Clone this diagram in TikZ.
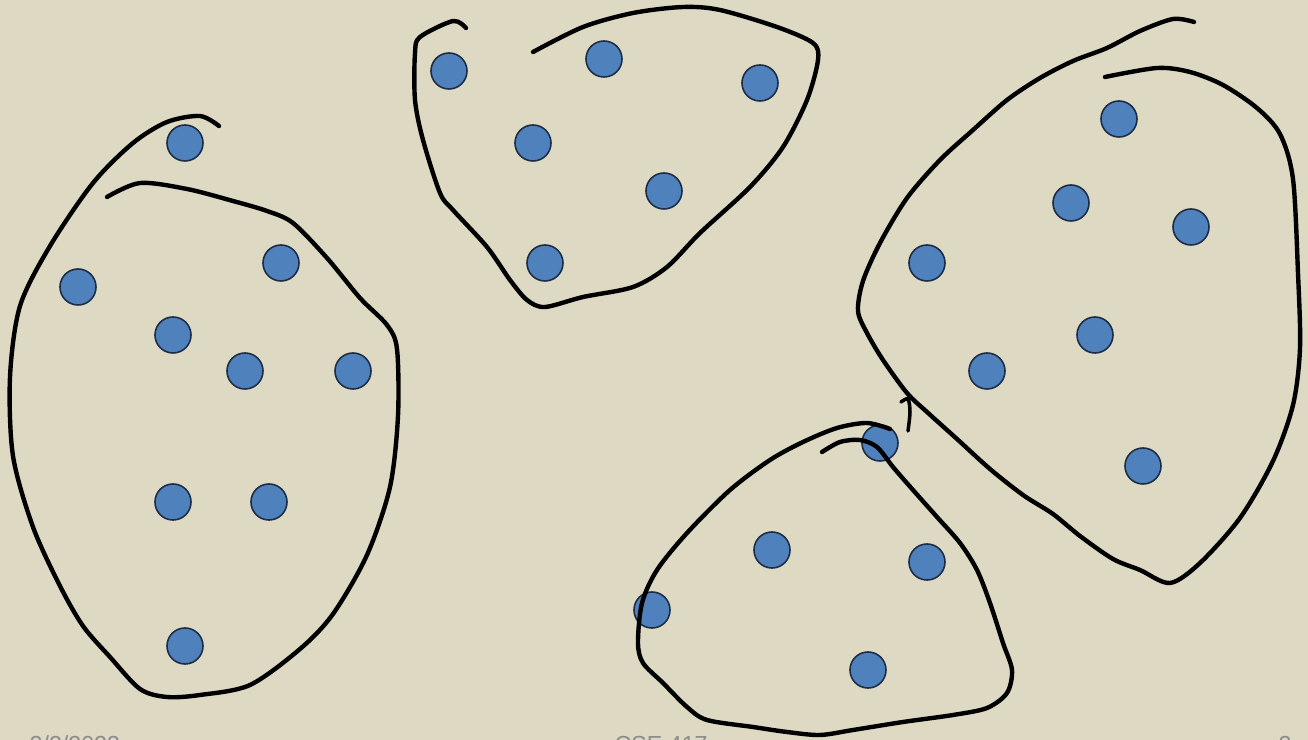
\documentclass[tikz,border=0pt]{standalone}
\usepackage{fontspec}
\setsansfont{Liberation Sans}
\usepackage{xcolor}
\definecolor{slidetan}{RGB}{221, 217, 195}
\definecolor{dotblue}{RGB}{79, 129, 189}
\definecolor{dotrim}{RGB}{30, 45, 70}
\definecolor{footgray}{RGB}{140, 140, 140}
\usepackage{tikz}

\tikzset{
  datum/.style={
    circle,
    draw=dotrim,
    line width=0.45pt,
    fill=dotblue,
    minimum size=0.36cm,
    inner sep=0pt
  },
  lasso/.style={
    draw=black,
    line width=1.25pt,
    line cap=round,
    line join=round
  },
  footer/.style={
    font=\sffamily\fontsize{6.6}{8}\selectfont,
    text=footgray,
    inner sep=0pt,
    anchor=base west
  }
}

\begin{document}
\begin{tikzpicture}[x=0.01cm, y=-0.01cm]
  \useasboundingbox[fill=slidetan] (0,0) rectangle (1308,740);

  % left group
  \node[datum] (l1) at (185,143) {};
  \node[datum] (l2) at (78,287) {};
  \node[datum] (l3) at (281,263) {};
  \node[datum] (l4) at (173,335) {};
  \node[datum] (l5) at (245,371) {};
  \node[datum] (l6) at (353,371) {};
  \node[datum] (l7) at (173,502) {};
  \node[datum] (l8) at (269,502) {};
  \node[datum] (l9) at (185,646) {};

  % top group
  \node[datum] (t1) at (449,71) {};
  \node[datum] (t2) at (604,59) {};
  \node[datum] (t3) at (760,83) {};
  \node[datum] (t4) at (533,143) {};
  \node[datum] (t5) at (664,191) {};
  \node[datum] (t6) at (545,263) {};

  % right group
  \node[datum] (r1) at (1119,119) {};
  \node[datum] (r2) at (1071,203) {};
  \node[datum] (r3) at (1191,227) {};
  \node[datum] (r4) at (927,263) {};
  \node[datum] (r5) at (1095,335) {};
  \node[datum] (r6) at (987,371) {};
  \node[datum] (r7) at (1143,466) {};

  % bottom group
  \node[datum] (b1) at (880,443) {};
  \node[datum] (b2) at (772,550) {};
  \node[datum] (b3) at (927,562) {};
  \node[datum] (b4) at (652,610) {};
  \node[datum] (b5) at (868,670) {};

  % hand drawn outlines
  \draw[lasso] plot[smooth] coordinates {
    (219,126) (200,116) (167,122) (133,143) (93,183) (50,246) (20,306)
    (10,377) (13,456) (33,527) (60,586) (83,626) (110,657) (140,689)
    (167,697) (200,695) (250,685) (300,649) (333,614) (367,555) (390,487)
    (398,416) (397,349) (387,325) (360,298) (327,258) (293,223) (267,211)
    (233,201) (187,189) (140,183) (107,197)};

  \draw[lasso] plot[smooth] coordinates {
    (466,28) (453,21) (420,37) (415,53) (415,100) (423,140) (440,193)
    (453,210) (487,247) (510,280) (527,300) (545,307) (583,297) (633,287)
    (667,267) (700,233) (750,187) (783,147) (807,100) (818,60) (813,43)
    (777,27) (720,10) (683,7) (633,13) (583,27) (533,52)};

  \draw[lasso] plot[smooth] coordinates {
    (1194,22) (1173,19) (1140,31) (1107,48) (1073,61) (1040,78) (1007,100)
    (973,130) (940,160) (907,198) (880,243) (863,281) (858,311) (867,333)
    (883,360) (907,393) (927,412) (957,439) (990,469) (1023,495) (1053,514)
    (1080,536) (1113,559) (1140,570) (1170,583) (1200,563) (1240,518)
    (1273,461) (1293,405) (1300,348) (1298,273) (1293,179) (1280,134)
    (1257,108) (1223,85) (1190,72) (1157,68) (1105,77)};

  \draw[lasso] plot[smooth] coordinates {
    (890,429) (867,423) (837,428) (803,442) (770,460) (730,490) (687,533)
    (657,570) (642,603) (638,643) (643,663) (663,683) (687,707) (707,720)
    (753,727) (787,732) (820,735) (853,730) (903,722) (953,715) (987,708)
    (1007,693) (1012,670) (1003,643) (990,603) (977,570) (960,543)
    (937,517) (913,490) (893,467) (877,447) (860,440) (840,442) (822,452)};

  \draw[lasso, line width=1pt] plot[smooth] coordinates {
    (908,431) (910,412) (908,399) (901,402)};

  % footer, cut by the page edge
  \node[footer] (date) at (29,753) {2/2/2023};
  \node[footer] (course) at (614,753) {CSE 417};
  \node[footer] (page) at (1278,753) {2};
\end{tikzpicture}
\end{document}
